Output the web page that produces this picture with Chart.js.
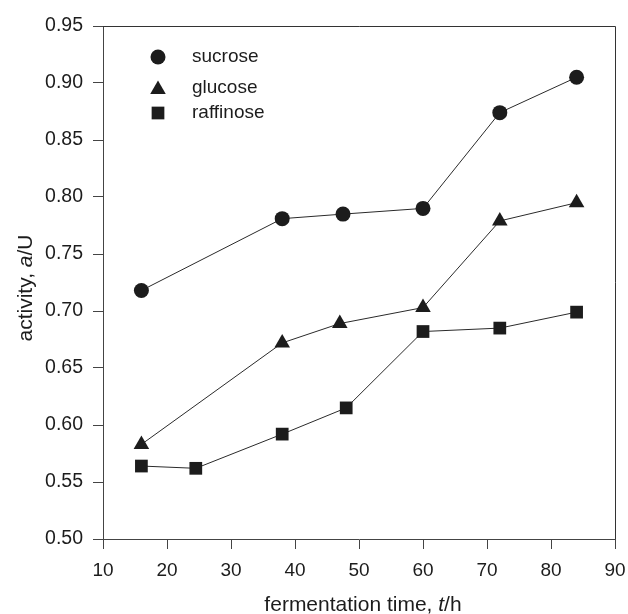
<!DOCTYPE html>
<html><head><meta charset="utf-8">
<script src="https://cdn.jsdelivr.net/npm/chart.js@4/dist/chart.umd.min.js"></script>
<style>html,body{margin:0;padding:0;background:#fff}#wrap{width:628px;height:614px}</style>
</head><body><div id="wrap"><canvas id="c" width="628" height="614"></canvas></div>
<script>
const seriesNames = ['sucrose', 'glucose', 'raffinose'];
const sucroseX = [16, 38, 47.5, 60, 72, 84];
const sucroseY = [0.718, 0.781, 0.785, 0.790, 0.874, 0.905];
const glucoseX = [16, 38, 47, 60, 72, 84];
const glucoseY = [0.583, 0.672, 0.689, 0.703, 0.779, 0.795];
const raffinoseX = [16, 24.5, 38, 48, 60, 72, 84];
const raffinoseY = [0.564, 0.562, 0.592, 0.615, 0.682, 0.685, 0.699];
const xTicks = [10, 20, 30, 40, 50, 60, 70, 80, 90];
const yTicks = [0.50, 0.55, 0.60, 0.65, 0.70, 0.75, 0.80, 0.85, 0.90, 0.95];
const pointStyles = ['circle', 'triangle', 'rect'];
const pointSizes = [7.5, 9, 9];

const FONT = '"Liberation Sans", Arial, sans-serif';
const INK = '#1c1c1c';

function pts(xs, ys) { return xs.map((x, i) => ({x: x, y: ys[i]})); }
const allX = [sucroseX, glucoseX, raffinoseX];
const allY = [sucroseY, glucoseY, raffinoseY];

const datasets = seriesNames.map((n, i) => ({
  label: n,
  data: pts(allX[i], allY[i]),
  showLine: true,
  borderColor: '#2a2a2a',
  borderWidth: 1,
  backgroundColor: INK,
  pointStyle: pointStyles[i],
  pointRadius: pointSizes[i],
  pointBackgroundColor: INK,
  pointBorderColor: INK,
  pointBorderWidth: 0,
  tension: 0
}));

function drawMixed(ctx, parts, size, cx, y) {
  let w = 0;
  parts.forEach(p => { ctx.font = (p[1] ? 'italic ' : '') + size + 'px ' + FONT; w += ctx.measureText(p[0]).width; });
  let x = cx - w / 2;
  parts.forEach(p => { ctx.font = (p[1] ? 'italic ' : '') + size + 'px ' + FONT; ctx.fillText(p[0], x, y); x += ctx.measureText(p[0]).width; });
}

const deco = {
  id: 'deco',
  afterDraw(chart) {
    const ctx = chart.ctx, a = chart.chartArea;
    ctx.save();
    ctx.strokeStyle = '#333';
    ctx.lineWidth = 1;
    ctx.beginPath();
    ctx.moveTo(a.left, a.top + 0.5); ctx.lineTo(a.right + 0.5, a.top + 0.5);
    ctx.lineTo(a.right + 0.5, a.bottom);
    ctx.stroke();
    // legend
    ctx.textBaseline = 'middle';
    const rows = [57, 88, 113];
    chart.data.datasets.forEach((ds, i) => {
      const y = rows[i];
      ctx.fillStyle = INK;
      Chart.helpers.drawPoint(ctx, {pointStyle: ds.pointStyle, radius: ds.pointRadius, borderWidth: 0, rotation: 0}, 158, y + (ds.pointStyle === 'triangle' ? 1.5 : 0));
      ctx.fillStyle = INK;
      ctx.font = '19px ' + FONT;
      ctx.fillText(ds.label, 192, y);
    });
    // x title
    ctx.textBaseline = 'alphabetic';
    drawMixed(ctx, [['fermentation time, ', false], ['t', true], ['/h', false]], 21, 363, 611);
    // y title
    ctx.translate(32, 288);
    ctx.rotate(-Math.PI / 2);
    drawMixed(ctx, [['activity, ', false], ['a', true], ['/U', false]], 21, 0, 0);
    ctx.restore();
  }
};

new Chart(document.getElementById('c'), {
  type: 'scatter',
  data: { datasets: datasets },
  options: {
    responsive: false,
    animation: false,
    layout: { padding: { top: 26, right: 13, left: 0, bottom: 0 } },
    plugins: { legend: { display: false }, tooltip: { enabled: false } },
    scales: {
      x: {
        type: 'linear', min: 10, max: 90,
        afterBuildTicks: s => { s.ticks = xTicks.map(v => ({value: v})); },
        afterFit: s => { s.height = 75; s.paddingLeft = 0; s.paddingRight = 0; },
        grid: { drawOnChartArea: false, drawTicks: true, tickLength: 10, color: '#444', tickColor: '#444' },
        border: { display: true, color: '#444', width: 1 },
        ticks: { color: INK, font: { family: FONT, size: 19 }, padding: 10, maxRotation: 0, callback: v => String(v) }
      },
      y: {
        type: 'linear', min: 0.5, max: 0.95,
        afterBuildTicks: s => { s.ticks = yTicks.map(v => ({value: v})); },
        afterFit: s => { s.width = 103; s.paddingTop = 0; s.paddingBottom = 0; },
        grid: { drawOnChartArea: false, drawTicks: true, tickLength: 10, color: '#444', tickColor: '#444' },
        border: { display: true, color: '#444', width: 1 },
        ticks: { color: INK, font: { family: FONT, size: 19.5 }, padding: 10, callback: v => Number(v).toFixed(2) }
      }
    }
  },
  plugins: [deco]
});
</script>
</body></html>
